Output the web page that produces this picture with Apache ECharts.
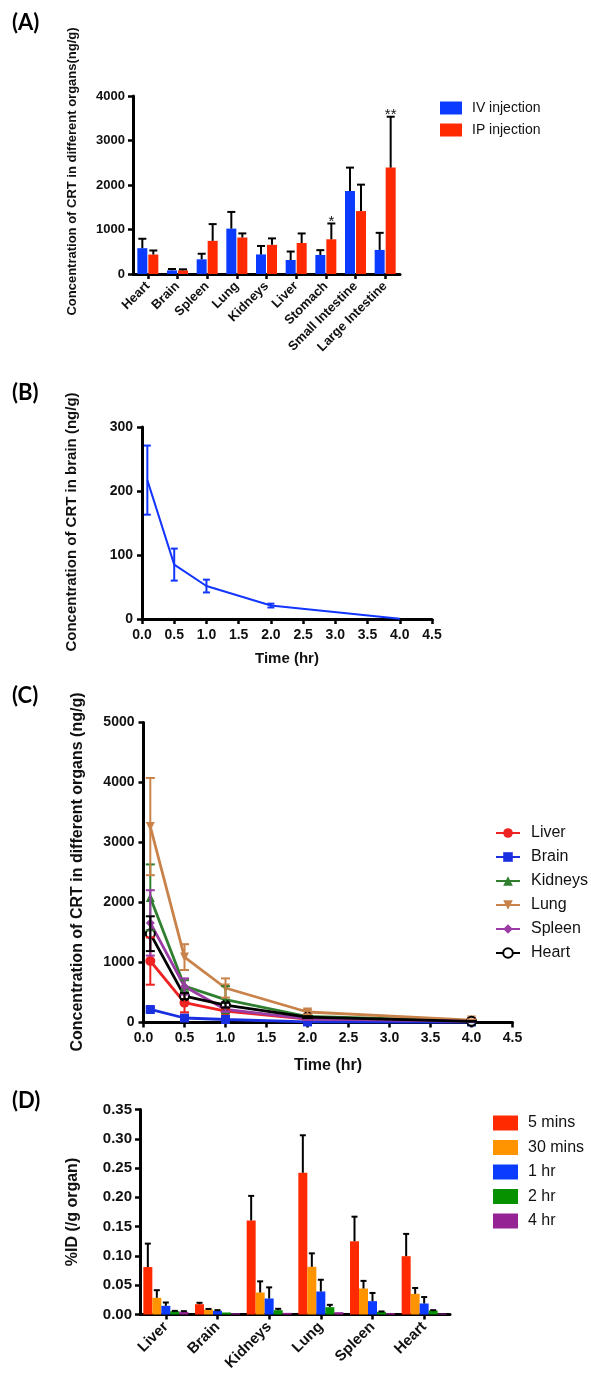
<!DOCTYPE html>
<html>
<head>
<meta charset="utf-8">
<script src="https://cdn.jsdelivr.net/npm/echarts@6/dist/echarts.min.js"></script>
<style>
html,body{margin:0;padding:0;background:#fff;}
#chart{width:591px;height:1374px;}
</style>
</head>
<body>
<div id="chart"></div>
<script>
// ---------- Panel A data ----------
const organsA = ['Heart','Brain','Spleen','Lung','Kidneys','Liver','Stomach','Small Intestine','Large Intestine'];
const ivMeanA = [580, 82, 330, 1020, 440, 315, 428, 1865, 541];
const ivErrA  = [212, 30, 125, 375, 190, 190, 108, 526, 384];
const ipMeanA = [437, 82, 745, 820, 655, 697, 780, 1414, 2391];
const ipErrA  = [91, 23, 376, 92, 145, 214, 355, 594, 1143];
const sigA    = ['', '', '', '', '', '', '*', '', '**'];

// ---------- Panel B data ----------
const timesB = [0.083, 0.5, 1, 2, 4];
const brainMeanB = [217, 85, 51.5, 21, 0.5];
const brainErrB  = [54, 25, 10, 3, 0];

// ---------- Panel C data ----------
const timesC = [0.083, 0.5, 1, 2, 4];
const liverC = [1025, 330, 190, 55, 28];     const liverErrC = [395, 160, 40, 15, 10];
const brainC = [217, 75, 50, 10, 8];         const brainErrC = [30, 10, 8, 3, 2];
const kidneysC = [2085, 605, 380, 100, 25];  const kidneysErrC = [550, 100, 225, 20, 5];
const lungC = [3265, 1090, 575, 175, 40];    const lungErrC = [810, 215, 160, 40, 10];
const spleenC = [1660, 600, 217, 60, 20];    const spleenErrC = [545, 135, 40, 15, 5];
const heartC = [1480, 440, 288, 90, 20];     const heartErrC = [290, 50, 40, 15, 5];

// ---------- Panel D data ----------
const organsD = ['Liver','Brain','Kidneys','Lung','Spleen','Heart'];
const min5D  = [0.081, 0.0176, 0.1605, 0.242, 0.125, 0.0996];   const min5ErrD  = [0.040, 0.0024, 0.042, 0.064, 0.042, 0.038];
const min30D = [0.0285, 0.0085, 0.0376, 0.0814, 0.0444, 0.0353]; const min30ErrD = [0.013, 0.001, 0.019, 0.023, 0.013, 0.010];
const hr1D   = [0.0148, 0.0063, 0.0273, 0.0393, 0.0228, 0.0188]; const hr1ErrD   = [0.0057, 0.0011, 0.019, 0.020, 0.014, 0.011];
const hr2D   = [0.0057, 0.0034, 0.0074, 0.0125, 0.0046, 0.0068]; const hr2ErrD   = [0.0005, 0, 0.0023, 0.004, 0.0006, 0.0006];
const hr4D   = [0.0046, 0.002, 0.0028, 0.004, 0.0023, 0.0017];   const hr4ErrD   = [0.0011, 0, 0, 0, 0, 0];

const FONT = '"Liberation Sans", Arial, sans-serif';
const INK = '#111';

function errorSeries(name, xi, yi, data, offset, capW, color, both, lw, sig) {
  return {
    type: 'custom', name: name, xAxisIndex: xi, yAxisIndex: yi, z: 6, silent: true,
    encode: {x: 0, y: 1}, data: data, clip: false,
    renderItem: function (params, api) {
      const x = api.value(0), m = api.value(1), e = api.value(2);
      const pm = api.coord([x, m]);
      const pt = api.coord([x, m + e]);
      const pb = both ? api.coord([x, m - e]) : pm;
      const cx = pm[0] + offset;
      const st = {stroke: color, lineWidth: lw};
      const ch = [];
      if (e > 0) {
        ch.push({type: 'line', shape: {x1: cx, y1: pb[1], x2: cx, y2: pt[1]}, style: st});
        ch.push({type: 'line', shape: {x1: cx - capW / 2, y1: pt[1], x2: cx + capW / 2, y2: pt[1]}, style: st});
        if (both) ch.push({type: 'line', shape: {x1: cx - capW / 2, y1: pb[1], x2: cx + capW / 2, y2: pb[1]}, style: st});
      }
      if (sig && sig[params.dataIndex]) {
        ch.push({type: 'text', x: cx, y: pt[1] + 6,
          style: {text: sig[params.dataIndex], align: 'center', verticalAlign: 'bottom',
                  textAlign: 'center', textVerticalAlign: 'bottom',
                  fontSize: 15, fontFamily: FONT, fill: INK}});
      }
      return {type: 'group', children: ch};
    }
  };
}

function axisBase(extra) {
  return Object.assign({
    axisLine: {show: true, onZero: false, lineStyle: {color: '#000', width: 3}},
    axisTick: {show: true, length: 5, lineStyle: {color: '#000', width: 2.5}},
    splitLine: {show: false}
  }, extra);
}
function lbl(size, extra) {
  return Object.assign({color: INK, fontFamily: FONT, fontWeight: 'bold', fontSize: size}, extra || {});
}
const plain = v => String(v);

const cRed = '#ff2a00', cBlue = '#0a3bff', cOrange = '#ff9400', cGreen = '#079000', cPurple = '#952394';

const idxA = (arr, err) => arr.map((v, i) => [i, v, err[i]]);
const idxT = (ts, arr, err) => ts.map((t, i) => [t, arr[i], err[i]]);

const lineC = (name, arr, color, symbol, size, extra) => Object.assign({
  type: 'line', name: name, xAxisIndex: 2, yAxisIndex: 2, clip: false, z: 4,
  data: timesC.map((t, i) => [t, arr[i]]),
  symbol: symbol, symbolSize: size,
  lineStyle: {width: 2.8, color: color}, itemStyle: {color: color}
}, extra || {});

const option = {
  animation: false,
  backgroundColor: '#fff',
  textStyle: {fontFamily: FONT},
  grid: [
    {left: 133, top: 96, width: 267, height: 178},
    {left: 142, top: 427, width: 290, height: 192},
    {left: 143.5, top: 722.5, width: 369, height: 300},
    {left: 140, top: 1109.5, width: 310, height: 205}
  ],
  xAxis: [
    axisBase({type: 'category', gridIndex: 0, data: organsA,
      axisTick: {show: true, alignWithLabel: true, length: 5, lineStyle: {color: '#000', width: 2.5}},
      axisLabel: lbl(13, {rotate: 45, interval: 0, margin: 10})}),
    axisBase({type: 'value', gridIndex: 1, min: 0, max: 4.5, interval: 0.5,
      axisLabel: lbl(14, {margin: 9, formatter: v => v.toFixed(1)}),
      name: 'Time (hr)', nameLocation: 'middle', nameGap: 32,
      nameTextStyle: {color: INK, fontFamily: FONT, fontWeight: 'bold', fontSize: 15}}),
    axisBase({type: 'value', gridIndex: 2, min: 0, max: 4.5, interval: 0.5,
      axisLabel: lbl(14, {margin: 9, formatter: v => v.toFixed(1)}),
      name: 'Time (hr)', nameLocation: 'middle', nameGap: 35,
      nameTextStyle: {color: INK, fontFamily: FONT, fontWeight: 'bold', fontSize: 16}}),
    axisBase({type: 'category', gridIndex: 3, data: organsD,
      axisTick: {show: true, alignWithLabel: true, length: 5, lineStyle: {color: '#000', width: 2.5}},
      axisLabel: lbl(15, {rotate: 45, interval: 0, margin: 10})})
  ],
  yAxis: [
    axisBase({type: 'value', gridIndex: 0, min: 0, max: 4000, interval: 1000, axisLabel: lbl(13, {margin: 8, formatter: plain})}),
    axisBase({type: 'value', gridIndex: 1, min: 0, max: 300, interval: 100, axisLabel: lbl(14, {margin: 9, formatter: plain})}),
    axisBase({type: 'value', gridIndex: 2, min: 0, max: 5000, interval: 1000, axisLabel: lbl(14, {margin: 9, formatter: plain})}),
    axisBase({type: 'value', gridIndex: 3, min: 0, max: 0.35, interval: 0.05,
      axisLabel: lbl(15, {margin: 8, formatter: v => v.toFixed(2)})})
  ],
  legend: [
    {data: ['IV injection', 'IP injection'], orient: 'vertical', left: 440, top: 101, padding: 0,
      icon: 'rect', itemWidth: 22, itemHeight: 13, itemGap: 8,
      textStyle: {fontSize: 14, lineHeight: 14, color: INK, fontFamily: FONT, padding: [0, 0, 0, 5]}},
    {data: ['Liver', 'Brain', 'Kidneys', 'Lung', 'Spleen', 'Heart'], orient: 'vertical', left: 495, top: 825, padding: 0,
      itemWidth: 24, itemHeight: 12, itemGap: 8,
      textStyle: {fontSize: 16, lineHeight: 16, color: INK, fontFamily: FONT, padding: [0, 0, 0, 6]}},
    {data: ['5 mins', '30 mins', '1 hr', '2 hr', '4 hr'], orient: 'vertical', left: 493, top: 1115, padding: 0,
      icon: 'rect', itemWidth: 25, itemHeight: 15, itemGap: 8.5,
      textStyle: {fontSize: 16, lineHeight: 16, color: INK, fontFamily: FONT, padding: [0, 0, 0, 5]}}
  ],
  graphic: [
    {type: 'text', x: 12, y: 12, style: {text: '(A)', fontSize: 22, fontWeight: 'bold', fontFamily: 'Lato', fill: '#000'}},
    {type: 'text', x: 12, y: 382, style: {text: '(B)', fontSize: 22, fontWeight: 'bold', fontFamily: 'Lato', fill: '#000'}},
    {type: 'text', x: 12, y: 685, style: {text: '(C)', fontSize: 22, fontWeight: 'bold', fontFamily: 'Lato', fill: '#000'}},
    {type: 'text', x: 12, y: 1090, style: {text: '(D)', fontSize: 22, fontWeight: 'bold', fontFamily: 'Lato', fill: '#000'}},
    {type: 'text', x: 72, y: 171.5, rotation: Math.PI / 2,
      style: {text: 'Concentration of CRT in different organs(ng/g)', align: 'center', verticalAlign: 'middle',
              fontSize: 13, fontWeight: 'bold', fontFamily: FONT, fill: INK}},
    {type: 'text', x: 72, y: 522, rotation: Math.PI / 2,
      style: {text: 'Concentration of CRT in brain (ng/g)', align: 'center', verticalAlign: 'middle',
              fontSize: 15, fontWeight: 'bold', fontFamily: FONT, fill: INK}},
    {type: 'text', x: 78, y: 872, rotation: Math.PI / 2,
      style: {text: 'Concentration of CRT in different organs (ng/g)', align: 'center', verticalAlign: 'middle',
              fontSize: 16, fontWeight: 'bold', fontFamily: FONT, fill: INK}},
    {type: 'text', x: 73, y: 1212, rotation: Math.PI / 2,
      style: {text: '%ID (/g organ)', align: 'center', verticalAlign: 'middle',
              fontSize: 16, fontWeight: 'bold', fontFamily: FONT, fill: INK}}
  ],
  series: [
    // Panel A
    {type: 'bar', name: 'IV injection', xAxisIndex: 0, yAxisIndex: 0, data: ivMeanA, barWidth: 10, barGap: '10%',
      itemStyle: {color: cBlue}},
    {type: 'bar', name: 'IP injection', xAxisIndex: 0, yAxisIndex: 0, data: ipMeanA, barWidth: 10, barGap: '10%',
      itemStyle: {color: cRed}},
    errorSeries('IV err', 0, 0, idxA(ivMeanA, ivErrA), -5.5, 8, '#000', false, 2),
    errorSeries('IP err', 0, 0, idxA(ipMeanA, ipErrA), 5.5, 8, '#000', false, 2, sigA),

    // Panel B
    {type: 'line', name: 'brain conc', xAxisIndex: 1, yAxisIndex: 1, showSymbol: false, clip: false,
      data: timesB.map((t, i) => [t, brainMeanB[i]]), lineStyle: {width: 2, color: '#1236ff'}, itemStyle: {color: '#1236ff'}},
    errorSeries('brain err', 1, 1, idxT(timesB, brainMeanB, brainErrB), 0, 7, '#1236ff', true, 2),

    // Panel C
    errorSeries('Liver err', 2, 2, idxT(timesC, liverC, liverErrC), 0, 9, '#ee2222', true, 2),
    errorSeries('Brain err', 2, 2, idxT(timesC, brainC, brainErrC), 0, 9, '#1a30e0', true, 2),
    errorSeries('Kidneys err', 2, 2, idxT(timesC, kidneysC, kidneysErrC), 0, 9, '#2f7f2f', true, 2),
    errorSeries('Lung err', 2, 2, idxT(timesC, lungC, lungErrC), 0, 9, '#c9834a', true, 2),
    errorSeries('Spleen err', 2, 2, idxT(timesC, spleenC, spleenErrC), 0, 9, '#9b3ca6', true, 2),
    errorSeries('Heart err', 2, 2, idxT(timesC, heartC, heartErrC), 0, 9, '#000', true, 2),
    lineC('Liver', liverC, '#ee2222', 'circle', 10),
    lineC('Brain', brainC, '#1a30e0', 'rect', 9),
    lineC('Kidneys', kidneysC, '#2f7f2f', 'triangle', 9),
    lineC('Lung', lungC, '#c9834a', 'triangle', 9, {symbolRotate: 180}),
    lineC('Spleen', spleenC, '#9b3ca6', 'diamond', 9),
    lineC('Heart', heartC, '#000', 'emptyCircle', 9, {itemStyle: {color: '#000', borderColor: '#000', borderWidth: 2}}),

    // Panel D
    {type: 'bar', name: '5 mins', xAxisIndex: 3, yAxisIndex: 3, data: min5D, barWidth: 9, barGap: '0%', itemStyle: {color: cRed}},
    {type: 'bar', name: '30 mins', xAxisIndex: 3, yAxisIndex: 3, data: min30D, barWidth: 9, barGap: '0%', itemStyle: {color: cOrange}},
    {type: 'bar', name: '1 hr', xAxisIndex: 3, yAxisIndex: 3, data: hr1D, barWidth: 9, barGap: '0%', itemStyle: {color: cBlue}},
    {type: 'bar', name: '2 hr', xAxisIndex: 3, yAxisIndex: 3, data: hr2D, barWidth: 9, barGap: '0%', itemStyle: {color: cGreen}},
    {type: 'bar', name: '4 hr', xAxisIndex: 3, yAxisIndex: 3, data: hr4D, barWidth: 9, barGap: '0%', itemStyle: {color: cPurple}},
    errorSeries('5 err', 3, 3, idxA(min5D, min5ErrD), -18, 6, '#000', false, 2),
    errorSeries('30 err', 3, 3, idxA(min30D, min30ErrD), -9, 6, '#000', false, 2),
    errorSeries('1h err', 3, 3, idxA(hr1D, hr1ErrD), 0, 6, '#000', false, 2),
    errorSeries('2h err', 3, 3, idxA(hr2D, hr2ErrD), 9, 6, '#000', false, 2),
    errorSeries('4h err', 3, 3, idxA(hr4D, hr4ErrD), 18, 6, '#000', false, 2)
  ]
};

const chart = echarts.init(document.getElementById('chart'), null, {renderer: 'canvas'});
chart.setOption(option);
</script>
</body>
</html>
